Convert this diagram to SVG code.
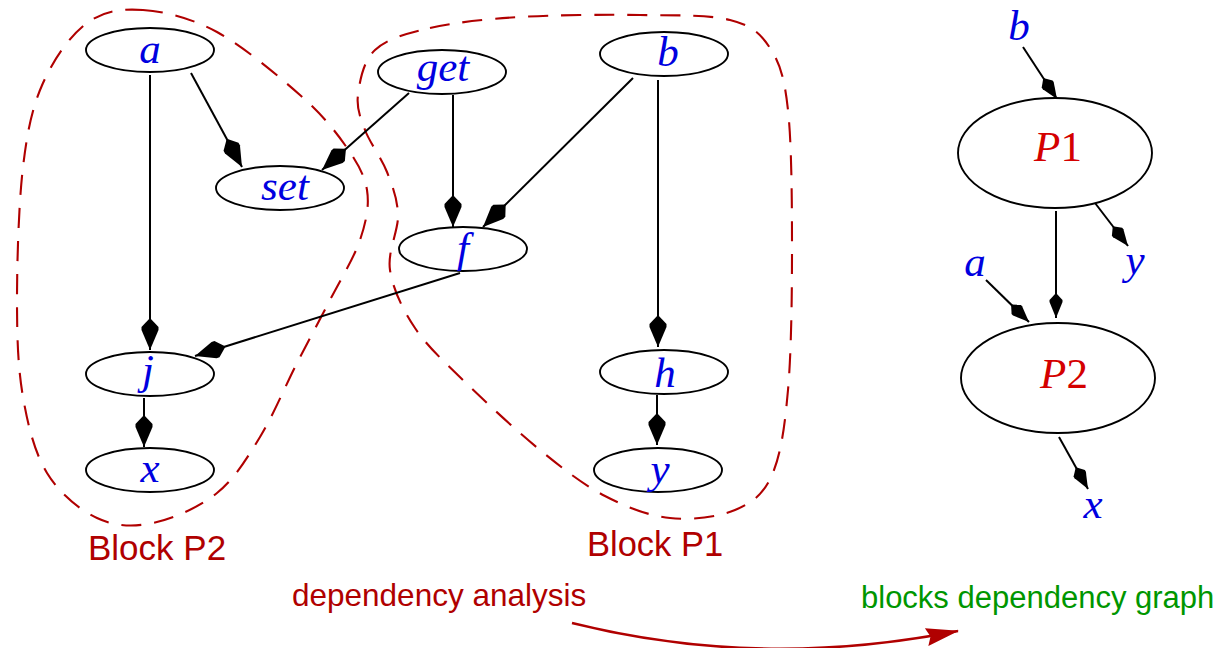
<svg xmlns="http://www.w3.org/2000/svg" width="1220" height="648" viewBox="0 0 1220 648">
<style>
.nd ellipse{fill:#fff;stroke:#000;stroke-width:1.9}
.m{font-family:"Liberation Serif",serif;font-style:italic;font-size:43px;fill:#0000e0;text-anchor:middle}
.pm{font-family:"Liberation Serif",serif;font-style:italic;font-size:43px;fill:#d40000;text-anchor:middle}
.up{font-style:normal}
.blk{fill:none;stroke:#b00000;stroke-width:2.1;stroke-dasharray:20 13}
.lbl{font-family:"Liberation Sans",Arial,sans-serif}
.e{stroke:#000;stroke-width:2;fill:none}
.eb{marker-end:url(#big)}
.es{marker-end:url(#small)}
</style>
<defs>
<marker id="big" markerUnits="userSpaceOnUse" viewBox="-1 -10 36 20" refX="32" refY="0" markerWidth="36" markerHeight="20" orient="auto" overflow="visible">
<path d="M0,0 L9,-8.5 L12,-8.5 L32,0 L12,8.5 L9,8.5 Z" fill="#000"/>
</marker>
<marker id="small" markerUnits="userSpaceOnUse" viewBox="-1 -8 28 16" refX="25" refY="0" markerWidth="28" markerHeight="16" orient="auto" overflow="visible">
<path d="M0,0 L7,-6.5 L9,-6.5 L25,0 L9,6.5 L7,6.5 Z" fill="#000"/>
</marker>
<marker id="redarrow" markerUnits="userSpaceOnUse" viewBox="-2 -10 36 20" refX="32" refY="0" markerWidth="36" markerHeight="20" orient="auto" overflow="visible">
<path d="M0,-9 L33,0 L0,9 L4,0 Z" fill="#b00000"/>
</marker>
</defs>
<rect width="1220" height="648" fill="#fff"/>

<g id="blocks">
<path class="blk" d="M143,10 C164.7,11.5 190.8,17.8 217,32 C243.2,46.2 278.7,76.2 300,95 C321.3,113.8 333.8,129.2 345,145 C356.2,160.8 364.5,174.2 367,190 C369.5,205.8 366.2,221.7 360,240 C353.8,258.3 340.5,279.5 330,300 C319.5,320.5 308.7,340.2 297,363 C285.3,385.8 273.3,415.3 260,437 C246.7,458.7 234.8,478.7 217,493 C199.2,507.3 173,518.8 153,523 C133,527.2 114.7,526.3 97,518 C79.3,509.7 59.3,493.2 47,473 C34.7,452.8 28,425.8 23,397 C18,368.2 17,338.3 17,300 C17,261.7 18.7,203.2 23,167 C27.3,130.8 32.3,107 43,83 C53.7,59 70.3,35.2 87,23 C103.7,10.8 121.3,8.5 143,10 Z"/>
<path class="blk" d="M430,28 C454.2,22.5 485,19.2 520,17 C555,14.8 605,14.5 640,15 C675,15.5 708.3,14.5 730,20 C751.7,25.5 760.3,33 770,48 C779.7,63 784.3,76.3 788,110 C791.7,143.7 792,203.3 792,250 C792,296.7 791.3,352.5 788,390 C784.7,427.5 780.8,455 772,475 C763.2,495 752,502.8 735,510 C718,517.2 691.7,520.3 670,518 C648.3,515.7 626.7,507.3 605,496 C583.3,484.7 563.3,469 540,450 C516.7,431 485.8,402.3 465,382 C444.2,361.7 427.5,346.7 415,328 C402.5,309.3 392.8,288.8 390,270 C387.2,251.2 398.5,231.3 398,215 C397.5,198.7 392.5,186.2 387,172 C381.5,157.8 369.8,142.8 365,130 C360.2,117.2 356.3,108.3 358,95 C359.7,81.7 363,61.2 375,50 C387,38.8 405.8,33.5 430,28 Z"/>
<text class="lbl" x="88" y="560" style="font-size:35px" fill="#b00000">Block P2</text>
<text class="lbl" x="587" y="556" style="font-size:34.5px" fill="#b00000">Block P1</text>
</g>

<g id="connectors">
<line class="e eb" x1="191" y1="73" x2="242" y2="167"/>
<line class="e eb" x1="409" y1="93" x2="322" y2="170"/>
<line class="e eb" x1="150" y1="75" x2="150" y2="350"/>
<line class="e eb" x1="453" y1="95" x2="453" y2="227"/>
<line class="e eb" x1="633" y1="78" x2="483" y2="227"/>
<line class="e eb" x1="658" y1="80" x2="658" y2="347"/>
<line class="e eb" x1="460" y1="273" x2="195" y2="356"/>
<line class="e eb" x1="144" y1="398" x2="144" y2="447"/>
<line class="e eb" x1="657" y1="395" x2="657" y2="445"/>
<line class="e es" x1="1023" y1="47" x2="1057" y2="99"/>
<line class="e es" x1="1095" y1="203" x2="1128" y2="246"/>
<line class="e es" x1="1056" y1="211" x2="1056" y2="318"/>
<line class="e es" x1="986" y1="280" x2="1029" y2="322"/>
<line class="e es" x1="1059" y1="437" x2="1088" y2="489"/>
<path d="M572,623 Q760,670 958,631" fill="none" stroke="#b00000" stroke-width="2.6" marker-end="url(#redarrow)"/>
</g>

<g id="node-a" class="nd"><ellipse cx="150" cy="50" rx="64" ry="22"/><text class="m" x="150" y="63">a</text></g>
<g id="node-set" class="nd"><ellipse cx="280" cy="188" rx="64" ry="22"/><text class="m" x="285" y="200">set</text></g>
<g id="node-get" class="nd"><ellipse cx="442" cy="72" rx="64" ry="22"/><text class="m" x="443" y="81">get</text></g>
<g id="node-b" class="nd"><ellipse cx="664" cy="54" rx="64" ry="22"/><text class="m" x="668" y="66">b</text></g>
<g id="node-f" class="nd"><ellipse cx="463" cy="249" rx="64" ry="22"/><text class="m" x="463" y="262">f</text></g>
<g id="node-j" class="nd"><ellipse cx="150" cy="374" rx="64" ry="22"/><text class="m" x="148" y="384">j</text></g>
<g id="node-x" class="nd"><ellipse cx="150" cy="470" rx="64" ry="22"/><text class="m" x="150" y="482">x</text></g>
<g id="node-h" class="nd"><ellipse cx="664" cy="372" rx="64" ry="22"/><text class="m" x="665" y="387">h</text></g>
<g id="node-y" class="nd"><ellipse cx="658" cy="470" rx="64" ry="22"/><text class="m" x="660" y="483">y</text></g>

<g id="node-P1" class="nd"><ellipse cx="1055" cy="153" rx="97" ry="55"/><text class="pm" x="1058" y="161">P<tspan class="up">1</tspan></text></g>
<g id="node-P2" class="nd"><ellipse cx="1058" cy="378" rx="97" ry="55"/><text class="pm" x="1064" y="388">P<tspan class="up">2</tspan></text></g>
<g id="in-b"><text class="m" x="1019" y="40">b</text></g>
<g id="out-y"><text class="m" x="1135" y="274">y</text></g>
<g id="in-a"><text class="m" x="975" y="276">a</text></g>
<g id="out-x"><text class="m" x="1093" y="518">x</text></g>

<g id="captions">
<text class="lbl" x="292" y="606" style="font-size:31.5px" fill="#b00000">dependency analysis</text>
<text class="lbl" x="861" y="608" style="font-size:31px" fill="#009600">blocks dependency graph</text>
</g>
</svg>
